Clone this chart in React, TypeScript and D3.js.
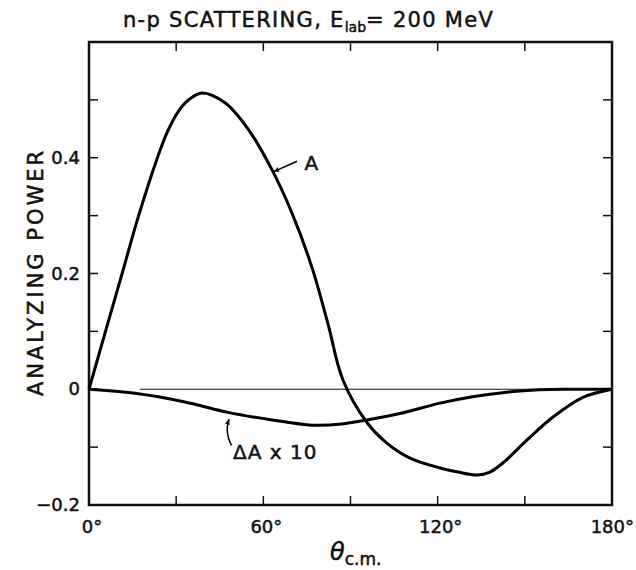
import React from 'react'
import * as d3 from 'd3'

// analyzing power, n-p scattering at 200 MeV
const thetaA = [0, 5.5, 11.4, 16.9, 23.4, 27, 30.6, 34.5, 38.9, 46.8, 54.7, 63, 69.9, 76.7, 82.2, 87.4, 95.6, 102.5, 110.5, 120.8, 127, 133.5, 138, 143, 150.7, 159.7, 170, 180]
const valA = [0, 0.097, 0.2, 0.297, 0.398, 0.445, 0.479, 0.501, 0.512, 0.495, 0.45, 0.379, 0.304, 0.211, 0.114, 0.016, -0.057, -0.093, -0.119, -0.136, -0.143, -0.148, -0.143, -0.125, -0.088, -0.048, -0.014, 0]

const thetaD = [0, 15.8, 33, 47.8, 63, 76.7, 87, 95.6, 107, 120.8, 132, 143.8, 155, 165, 180]
const valD = [0, -0.007, -0.022, -0.04, -0.053, -0.062, -0.06, -0.053, -0.042, -0.024, -0.013, -0.005, -0.001, 0.0, 0]

const xTicks = [0, 30, 60, 90, 120, 150, 180]
const xLabels = [0, 60, 120, 180]
const yTicks = [-0.2, -0.1, 0, 0.1, 0.2, 0.3, 0.4, 0.5, 0.6]
const yLabels = [-0.2, 0, 0.2, 0.4]

const W = 636, H = 570
const m = {left: 89, right: 612, top: 42, bottom: 505}
const font = "'DejaVu Sans', Verdana, sans-serif"

const App = () => {
  const x = d3.scaleLinear().domain([0, 180]).range([m.left, m.right])
  const y = d3.scaleLinear().domain([-0.2, 0.6]).range([m.bottom, m.top])

  const line = d3.line<[number, number]>()
    .x(d => x(d[0]))
    .y(d => y(d[1]))
    .curve(d3.curveCatmullRom.alpha(0.5))

  const pathA = line(thetaA.map((t, i) => [t, valA[i]]))
  const pathD = line(thetaD.map((t, i) => [t, valD[i]]))

  const tl = 9
  const yLbl = (v: number) => v === 0 ? '0' : v < 0 ? '\u2212' + Math.abs(v).toFixed(1) : v.toFixed(1)

  // annotation arrows, in data units
  const arrA = `M${x(71.6)},${y(0.394)} L${x(63.6)},${y(0.376)}`
  const arrD = `M${x(49)},${y(-0.097)} Q${x(46.6)},${y(-0.074)} ${x(48.2)},${y(-0.052)}`

  const txt = {fill: '#111', stroke: '#111', strokeWidth: 0.5}

  return (
    <svg width={W} height={H} style={{position: 'absolute', left: 0, top: 0, background: '#fff'}}
      fontFamily={font}>
      <defs>
        <marker id="ah" viewBox="0 0 10 10" refX="9" refY="5" markerWidth="4" markerHeight="4" orient="auto">
          <path d="M0,1 L10,5 L0,9 Z" fill="#000" />
        </marker>
      </defs>

      <text x={123} y={27} fontSize={21} letterSpacing={1.3} {...txt}>
        n-p SCATTERING, E<tspan fontSize={14} dy={5} letterSpacing={0}>lab</tspan><tspan dy={-5}>= 200 MeV</tspan>
      </text>

      {/* zero line */}
      <line x1={x(17.5)} x2={x(180)} y1={y(0)} y2={y(0)} stroke="#111" strokeWidth={1.2} />

      {/* ticks */}
      {xTicks.map(t => (
        <g key={'x' + t}>
          <line x1={x(t)} x2={x(t)} y1={m.bottom} y2={m.bottom - tl} stroke="#111" strokeWidth={1.5} />
          <line x1={x(t)} x2={x(t)} y1={m.top} y2={m.top + tl} stroke="#111" strokeWidth={1.5} />
        </g>
      ))}
      {yTicks.map(v => (
        <g key={'y' + v}>
          <line x1={m.left} x2={m.left + tl} y1={y(v)} y2={y(v)} stroke="#111" strokeWidth={1.5} />
          <line x1={m.right} x2={m.right - tl} y1={y(v)} y2={y(v)} stroke="#111" strokeWidth={1.5} />
        </g>
      ))}

      <rect x={m.left} y={m.top} width={m.right - m.left} height={m.bottom - m.top}
        fill="none" stroke="#111" strokeWidth={2.5} />

      {xLabels.map((t, i) => (
        <text key={'xl' + t} x={i === xLabels.length - 1 ? W - 2 : x(t) + 3} y={533}
          textAnchor={i === xLabels.length - 1 ? 'end' : 'middle'} fontSize={18} {...txt}>{t}°</text>
      ))}
      {yLabels.map(v => (
        <text key={'yl' + v} x={80} y={y(v) + 6} textAnchor="end" fontSize={18} {...txt}>{yLbl(v)}</text>
      ))}

      <text transform={`translate(43,${272}) rotate(-90)`} textAnchor="middle"
        fontSize={21} letterSpacing={3} {...txt}>ANALYZING POWER</text>

      <text x={330} y={560} fontSize={24} fontStyle="italic" {...txt}>θ
        <tspan fontSize={17} fontStyle="normal" dy={5}>c.m.</tspan>
      </text>

      <path d={pathA ?? ''} fill="none" stroke="#000" strokeWidth={3} />
      <path d={pathD ?? ''} fill="none" stroke="#000" strokeWidth={3} />

      <path d={arrA} fill="none" stroke="#000" strokeWidth={1.5} markerEnd="url(#ah)" />
      <text x={x(74.2)} y={y(0.378)} fontSize={20} {...txt}>A</text>

      <path d={arrD} fill="none" stroke="#000" strokeWidth={1.5} markerEnd="url(#ah)" />
      <text x={x(49.6)} y={y(-0.121)} fontSize={20} letterSpacing={1} {...txt}>ΔA x 10</text>
    </svg>
  )
}

export default App
